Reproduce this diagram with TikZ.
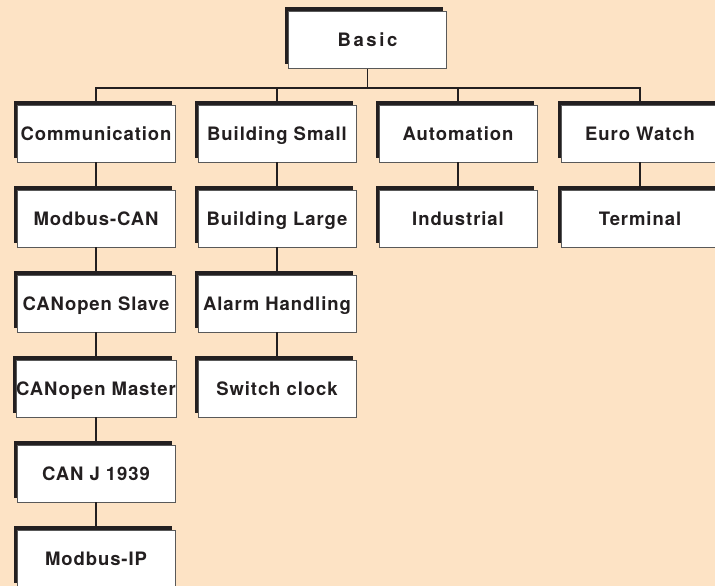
\documentclass[tikz,border=0pt]{standalone}
\usepackage{fontspec}
\newfontfamily\boxfont[LetterSpace=5]{TeX Gyre Heros}
\usetikzlibrary{shadows}
\definecolor{bgpeach}{RGB}{253,227,197}
\definecolor{inkdark}{RGB}{35,31,32}
\begin{document}
\begin{tikzpicture}[x=1pt,y=-1pt,
	modbox/.style={draw=black!65,line width=.6pt,fill=white,minimum width=158pt,minimum height=57pt,inner sep=0pt,
		text height=13.4pt,text depth=0pt,
		font=\boxfont\bfseries\fontsize{18.5}{20}\selectfont,text=inkdark,
		drop shadow={shadow xshift=-3.5pt,shadow yshift=4.5pt,opacity=1,fill=inkdark}},
	link/.style={draw=inkdark,line width=1.4pt}]
	\clip (0,0) rectangle (715,586);
	\fill[bgpeach] (0,0) rectangle (715,586);
	%ROOT
	\node[modbox,font=\boxfont\bfseries\fontsize{18.5}{20}\selectfont\addfontfeature{LetterSpace=14}] (basic) at (367.5,40) {Basic};
	\coordinate (bus) at (0,88);
	%COLUMN 1
	\node[modbox] (comm) at (96,133.5) {Communication};
	\node[modbox] (mcan) at (96,218.5) {Modbus-CAN};
	\node[modbox] (coslave) at (96,303.5) {CANopen Slave};
	\node[modbox] (comaster) at (96,388.5) {CANopen Master};
	\node[modbox] (j1939) at (96,473.5) {CAN J 1939};
	\node[modbox] (mip) at (96,558.5) {Modbus-IP};
	%COLUMN 2
	\node[modbox] (bsmall) at (277,133.5) {Building Small};
	\node[modbox] (blarge) at (277,218.5) {Building Large};
	\node[modbox] (alarm) at (277,303.5) {Alarm Handling};
	\node[modbox] (sclock) at (277,388.5) {Switch clock};
	%COLUMN 3 AND 4
	\node[modbox] (auto) at (458,133.5) {Automation};
	\node[modbox] (indus) at (458,218.5) {Industrial};
	\node[modbox] (euro) at (640,133.5) {Euro Watch};
	\node[modbox] (term) at (640,218.5) {Terminal};
	%LINKS
	\draw[link] (basic.south) -- (basic.south |- bus);
	\draw[link] (comm.north) -- (comm.north |- bus) -- (euro.north |- bus) -- (euro.north);
	\draw[link] (bsmall.north) -- (bsmall.north |- bus);
	\draw[link] (auto.north) -- (auto.north |- bus);
	\draw[link] (comm.south) -- (mcan.north) (mcan.south) -- (coslave.north) (coslave.south) -- (comaster.north) (comaster.south) -- (j1939.north) (j1939.south) -- (mip.north);
	\draw[link] (bsmall.south) -- (blarge.north) (blarge.south) -- (alarm.north) (alarm.south) -- (sclock.north);
	\draw[link] (auto.south) -- (indus.north);
	\draw[link] (euro.south) -- (term.north);
\end{tikzpicture}
\end{document}
